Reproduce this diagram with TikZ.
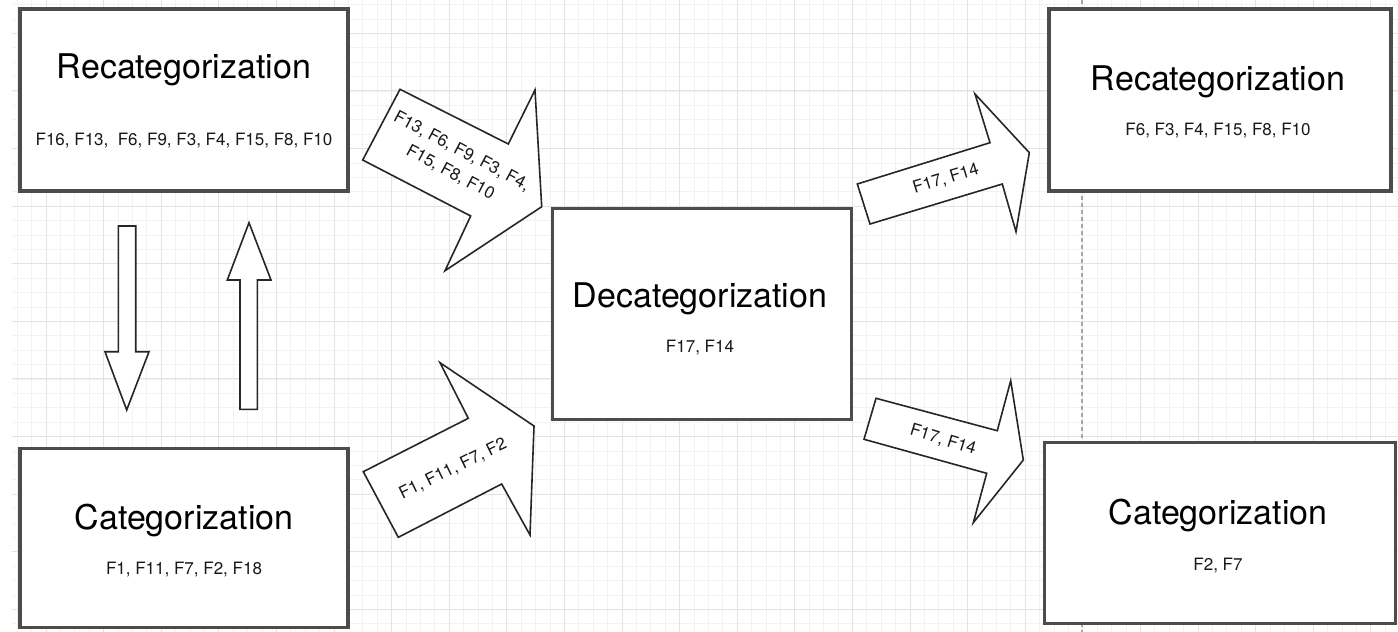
\documentclass[tikz,border=0pt]{standalone}
\usepackage{fontspec}
\setmainfont{TeX Gyre Heros}
\begin{document}
\begin{tikzpicture}[x=1pt,y=-1pt,
  box/.style={draw=black!70,line width=3.4pt,fill=white,rectangle,inner sep=0pt},
  title/.style={anchor=base,inner sep=0pt,font=\fontsize{34}{40}\selectfont},
  sub/.style={anchor=base,inner sep=0pt,text=black!90,font=\fontsize{17}{21}\selectfont},
  blockarrow/.style={draw=black!85,line width=1.6pt,fill=white,line join=miter},
  arrowlabel/.style={inner sep=0pt,align=center,text=black!90,font=\fontsize{17}{24}\selectfont},
  minorgrid/.style={draw=black!5,line width=0.8pt},
  majorgrid/.style={draw=black!11,line width=1pt},
  pagebreak/.style={draw=black!35,line width=1.2pt,dash pattern=on 4pt off 3pt}]
\useasboundingbox (0,0) rectangle (1398,632);
\fill[white] (0,0) rectangle (1398,632);
% grid
\begin{scope}
\clip (12,0) rectangle (1398,632);
\foreach \i in {0,...,96} {\draw[minorgrid] (2.8+\i*14.4,0) -- (2.8+\i*14.4,632);}
\foreach \i in {0,...,44} {\draw[minorgrid] (0,4.5+\i*14.4) -- (1398,4.5+\i*14.4);}
\foreach \i in {0,...,24} {\draw[majorgrid] (46+\i*57.6,0) -- (46+\i*57.6,632);}
\foreach \i in {0,...,11} {\draw[majorgrid] (0,33.3+\i*57.6) -- (1398,33.3+\i*57.6);}
\end{scope}
\coordinate (pbtop) at (1082,0);
\coordinate (pbbot) at (1082,632);
\draw[pagebreak] (pbtop) -- (pbbot);
% boxes
\node[box,minimum width=328pt,minimum height=182pt] (recatL) at (184,100) {};
\node[title] (recatLt) at (184,78) {Recategorization};
\node[sub] (recatLs) at (184,145.5) {F16, F13,\ \ F6, F9, F3, F4, F15, F8, F10};

\node[box,minimum width=328pt,minimum height=179pt] (catL) at (184,538) {};
\node[title] (catLt) at (184,529) {Categorization};
\node[sub] (catLs) at (184,574) {F1, F11, F7, F2, F18};

\node[box,minimum width=299pt,minimum height=211pt] (decat) at (702,314) {};
\node[title] (decatt) at (700,307) {Decategorization};
\node[sub] (decats) at (700,352) {F17, F14};

\node[box,minimum width=342pt,minimum height=182pt] (recatR) at (1220,100) {};
\node[title] (recatRt) at (1218,90) {Recategorization};
\node[sub] (recatRs) at (1218,135) {F6, F3, F4, F15, F8, F10};

\node[box,minimum width=351pt,minimum height=181pt] (catR) at (1220,533) {};
\node[title] (catRt) at (1218,524) {Categorization};
\node[sub] (catRs) at (1218,570) {F2, F7};

% vertical block arrows
\draw[blockarrow] (118.3,226) -- (135.7,226) -- (135.7,351.7) -- (149,351.7) -- (126.7,410) -- (105,351.7) -- (118.3,351.7) -- cycle;
\draw[blockarrow] (249,222.7) -- (271,280) -- (257.3,280) -- (257.3,409.3) -- (240,409.3) -- (240,280) -- (227.3,280) -- cycle;

% diagonal block arrows
\draw[blockarrow] (400,89.3) -- (508.3,144) -- (535,90) -- (541.7,206.7) -- (445,270.7) -- (470.7,216) -- (362.7,160) -- cycle;
\node[arrowlabel,rotate=-28] (lblA) at (456,162) {F13, F6, F9, F3, F4,\\F15, F8, F10};

\draw[blockarrow] (363.3,471.7) -- (468.3,418.3) -- (440,362.7) -- (534,426) -- (530,535) -- (501.7,484) -- (398.3,537.3) -- cycle;
\node[arrowlabel,rotate=26] (lblB) at (453,469) {F1, F11, F7, F2};

\draw[blockarrow] (857.3,184) -- (990,142.7) -- (975,94) -- (1029.3,152.7) -- (1016,231.7) -- (1002.3,184) -- (870,224) -- cycle;
\node[arrowlabel,rotate=17] (lblC) at (946,179) {F17, F14};

\draw[blockarrow] (876,398.3) -- (997.3,430.7) -- (1010.7,380.7) -- (1023.3,460) -- (973.3,522.7) -- (986.7,473.3) -- (864,439.3) -- cycle;
\node[arrowlabel,rotate=-17] (lblD) at (943,440) {F17, F14};
\end{tikzpicture}
\end{document}
